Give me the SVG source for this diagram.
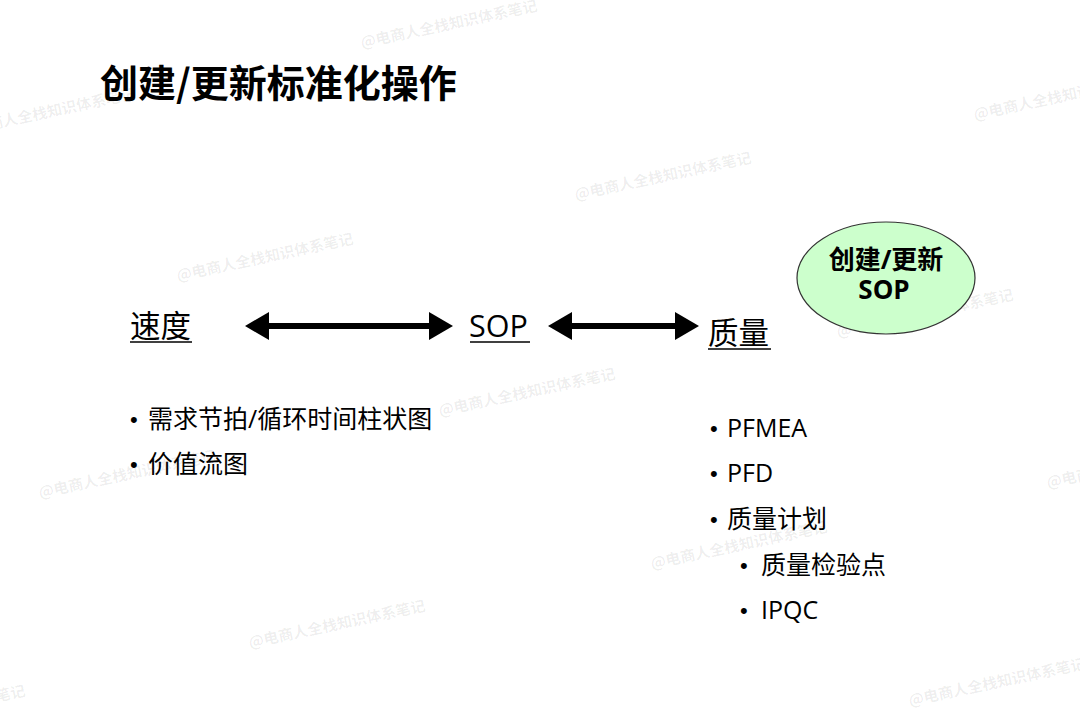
<svg xmlns="http://www.w3.org/2000/svg" width="1080" height="718" viewBox="0 0 1080 718">
<style>
.wm{font-family:"Noto Sans CJK SC",sans-serif;font-size:15px;fill:#000;fill-opacity:0.07;font-weight:bold}
.title{font-family:"Noto Sans CJK SC",sans-serif;font-size:38px;font-weight:bold;fill:#000}
.lbl{font-family:"Open Sans","Noto Sans CJK SC",sans-serif;font-size:30.5px;fill:#000}
.ul{stroke:#000;stroke-width:1.5}
.item{font-family:"Open Sans","Noto Sans CJK SC",sans-serif;font-size:25px;fill:#000}
.bul{font-family:"Liberation Sans",sans-serif;font-size:22px;fill:#000}
.oval{font-family:"Open Sans","Noto Sans CJK SC",sans-serif;font-size:26px;font-weight:bold;fill:#000;text-anchor:middle}
.arr{stroke:#000;stroke-width:6;fill:none}
</style>
<defs>
<marker id="head" markerUnits="userSpaceOnUse" markerWidth="26" markerHeight="28" refX="8" refY="14" orient="auto-start-reverse" viewBox="0 0 26 28">
<path d="M0,0 L24,14 L0,28 Z" fill="#000"/>
</marker>
</defs>
<rect width="1080" height="718" fill="#fff"/>
<g id="watermarks">
<text class="wm" transform="translate(362,48) rotate(-12)">@电商人全栈知识体系笔记</text>
<text class="wm" transform="translate(-40,136) rotate(-12)">@电商人全栈知识体系笔记</text>
<text class="wm" transform="translate(576,200) rotate(-12)">@电商人全栈知识体系笔记</text>
<text class="wm" transform="translate(178,281) rotate(-12)">@电商人全栈知识体系笔记</text>
<text class="wm" transform="translate(975,120) rotate(-12)">@电商人全栈知识体系笔记</text>
<text class="wm" transform="translate(838,337) rotate(-12)">@电商人全栈知识体系笔记</text>
<text class="wm" transform="translate(440,416) rotate(-12)">@电商人全栈知识体系笔记</text>
<text class="wm" transform="translate(40,498) rotate(-12)">@电商人全栈知识体系笔记</text>
<text class="wm" transform="translate(1048,488) rotate(-12)">@电商人全栈知识体系笔记</text>
<text class="wm" transform="translate(652,569) rotate(-12)">@电商人全栈知识体系笔记</text>
<text class="wm" transform="translate(250,648) rotate(-12)">@电商人全栈知识体系笔记</text>
<text class="wm" transform="translate(-150,733) rotate(-12)">@电商人全栈知识体系笔记</text>
<text class="wm" transform="translate(910,706) rotate(-12)">@电商人全栈知识体系笔记</text>
</g>
<g id="title">
<text class="title" x="100" y="97">创建/更新标准化操作</text>
</g>
<g id="node-oval">
<ellipse cx="886" cy="278" rx="89" ry="56" fill="#ccffcc" stroke="#333" stroke-width="1.2"/>
<text class="oval" x="886" y="269">创建/更新</text>
<text class="oval" x="884" y="299">SOP</text>
</g>
<g id="node-speed">
<text class="lbl" x="130" y="337">速度</text>
<line class="ul" x1="130" y1="342" x2="192" y2="342"/>
</g>
<g id="node-sop">
<text class="lbl" x="469" y="337">SOP</text>
<line class="ul" x1="470" y1="342" x2="530" y2="342"/>
</g>
<g id="node-quality">
<text class="lbl" x="708" y="344">质量</text>
<line class="ul" x1="708" y1="349" x2="771" y2="349"/>
</g>
<g id="connectors">
<line class="arr" x1="261" y1="326" x2="437" y2="326" marker-start="url(#head)" marker-end="url(#head)"/>
<line class="arr" x1="564" y1="326" x2="683" y2="326" marker-start="url(#head)" marker-end="url(#head)"/>
</g>
<g id="speed-list">
<text class="bul" x="130" y="427">•</text><text class="item" x="148" y="428">需求节拍/循环时间柱状图</text>
<text class="bul" x="130" y="472">•</text><text class="item" x="148" y="473">价值流图</text>
</g>
<g id="quality-list">
<text class="bul" x="710" y="436">•</text><text class="item" x="727" y="437">PFMEA</text>
<text class="bul" x="710" y="481">•</text><text class="item" x="727" y="482">PFD</text>
<text class="bul" x="710" y="527">•</text><text class="item" x="727" y="528">质量计划</text>
<text class="bul" x="740" y="573">•</text><text class="item" x="761" y="574">质量检验点</text>
<text class="bul" x="740" y="618">•</text><text class="item" x="761" y="619">IPQC</text>
</g>
</svg>
